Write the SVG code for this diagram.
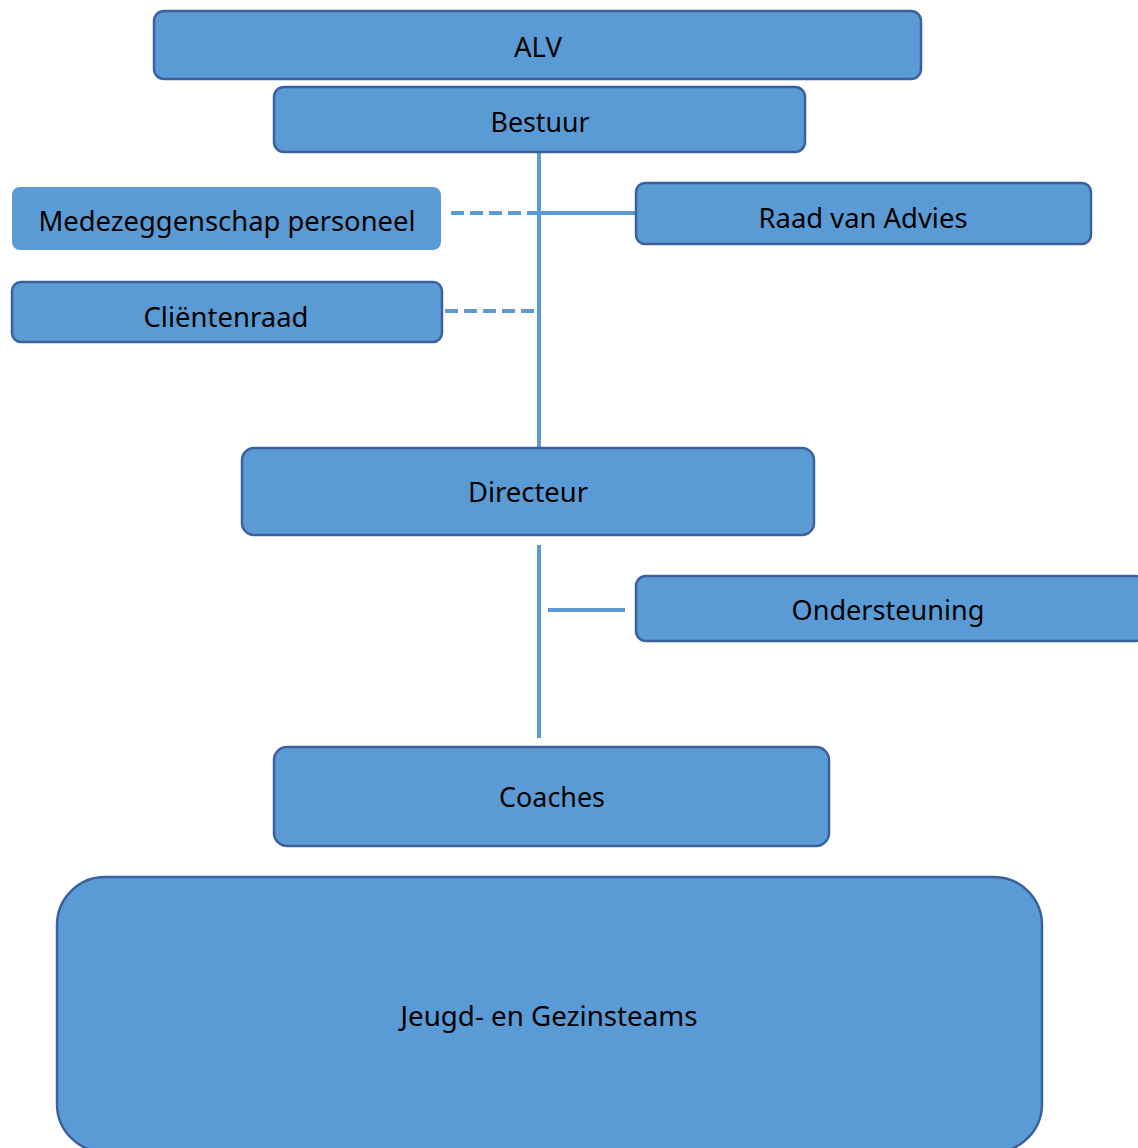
<svg xmlns="http://www.w3.org/2000/svg" width="1138" height="1148" viewBox="0 0 1138 1148">
<style>
.box{fill:#5B9BD5;stroke:#3B619C;stroke-width:2.5}
.plain{fill:#5B9BD5;stroke:none}
.lbl{font-family:"Noto Sans","Open Sans","Liberation Sans",sans-serif;font-size:27.5px;fill:#000;text-anchor:middle}
.ln{stroke:#5B9BD5;stroke-width:4;fill:none}
.dash{stroke-dasharray:13 6}
</style>
<rect width="1138" height="1148" fill="#fff"/>
<g id="connectors">
<line class="ln" x1="539" y1="152" x2="539" y2="448"/>
<line class="ln" x1="539" y1="213" x2="636" y2="213"/>
<line class="ln dash" x1="451" y1="213" x2="539" y2="213"/>
<line class="ln dash" x1="445" y1="311" x2="539" y2="311"/>
<line class="ln" x1="539" y1="545" x2="539" y2="738"/>
<line class="ln" x1="548" y1="610" x2="625" y2="610"/>
</g>
<g id="alv"><rect class="box" x="154" y="11" width="767" height="68" rx="10"/><text class="lbl" x="538" y="57" textLength="48" lengthAdjust="spacingAndGlyphs">ALV</text></g>
<g id="bestuur"><rect class="box" x="274" y="87" width="531" height="65" rx="10"/><text class="lbl" x="540" y="132" textLength="99" lengthAdjust="spacingAndGlyphs">Bestuur</text></g>
<g id="medezeggenschap"><rect class="plain" x="12" y="187" width="429" height="63" rx="8"/><text class="lbl" x="227" y="231" textLength="377" lengthAdjust="spacingAndGlyphs">Medezeggenschap personeel</text></g>
<g id="raad"><rect class="box" x="636" y="183" width="455" height="61" rx="9"/><text class="lbl" x="863" y="228" textLength="209" lengthAdjust="spacingAndGlyphs">Raad van Advies</text></g>
<g id="clientenraad"><rect class="box" x="12" y="282" width="430" height="60" rx="9"/><text class="lbl" x="226" y="327" textLength="165" lengthAdjust="spacingAndGlyphs">Cliëntenraad</text></g>
<g id="directeur"><rect class="box" x="242" y="448" width="572" height="87" rx="12"/><text class="lbl" x="528" y="502" textLength="120" lengthAdjust="spacingAndGlyphs">Directeur</text></g>
<g id="ondersteuning"><rect class="box" x="636" y="576" width="510" height="65" rx="10"/><text class="lbl" x="888" y="620" textLength="193" lengthAdjust="spacingAndGlyphs">Ondersteuning</text></g>
<g id="coaches"><rect class="box" x="274" y="747" width="555" height="99" rx="13"/><text class="lbl" x="552" y="807" textLength="106" lengthAdjust="spacingAndGlyphs">Coaches</text></g>
<g id="jeugd"><rect class="box" x="57" y="877" width="985" height="275" rx="48"/><text class="lbl" x="549" y="1026" textLength="297" lengthAdjust="spacingAndGlyphs">Jeugd- en Gezinsteams</text></g>
</svg>
